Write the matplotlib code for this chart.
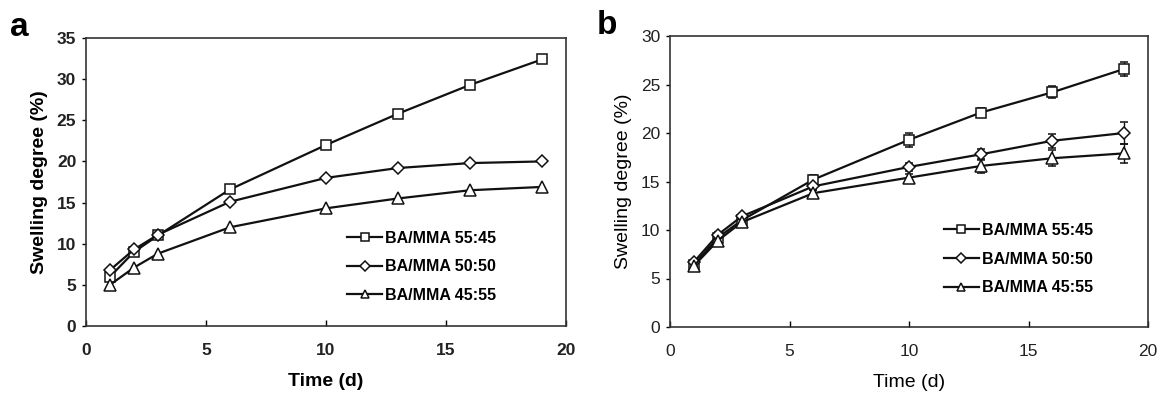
import numpy as np
import matplotlib.pyplot as plt

plt.rcParams['font.family'] = ['Liberation Sans', 'DejaVu Sans']

days = [1, 2, 3, 6, 10, 13, 16, 19]
labels = ["BA/MMA 55:45", "BA/MMA 50:50", "BA/MMA 45:55"]
markers = ["s", "D", "^"]

# panel a
a_5545 = [6.0, 9.0, 11.0, 16.6, 22.0, 25.8, 29.3, 32.4]
a_5050 = [6.8, 9.3, 11.1, 15.1, 18.0, 19.2, 19.8, 20.0]
a_4555 = [5.0, 7.1, 8.8, 12.0, 14.3, 15.5, 16.5, 16.9]

# panel b (mean + error)
b_5545 = [6.4, 9.2, 11.0, 15.2, 19.3, 22.1, 24.2, 26.6]
b_5050 = [6.7, 9.5, 11.4, 14.5, 16.5, 17.8, 19.2, 20.0]
b_4555 = [6.3, 8.9, 10.8, 13.8, 15.4, 16.6, 17.4, 17.9]
b_err_5545 = [0.3, 0.3, 0.3, 0.5, 0.7, 0.5, 0.6, 0.7]
b_err_5050 = [0.2, 0.3, 0.3, 0.4, 0.4, 0.6, 0.7, 1.1]
b_err_4555 = [0.2, 0.3, 0.3, 0.3, 0.4, 0.7, 0.8, 1.0]

fig = plt.figure(figsize=(11.59, 3.93), dpi=100)
W, H = 1159, 393
ax_a = fig.add_axes([86 / W, 1 - 326 / H, 480 / W, 288 / H])
ax_b = fig.add_axes([670 / W, 1 - 327 / H, 478 / W, 291 / H])

msize = {"s": 7, "D": 6, "^": 8}

def style_axes(ax, ymax, bold):
    w = "bold" if bold else "normal"
    ax.set_xlim(0, 20)
    ax.set_ylim(0, ymax)
    ax.set_xticks(range(0, 21, 5))
    ax.set_yticks(range(0, ymax + 1, 5))
    ax.tick_params(axis="x", direction="in", length=4, width=1, labelsize=12.5, pad=12)
    ax.tick_params(axis="y", direction="out", length=3, width=1, labelsize=12.5, pad=4)
    for lab in ax.get_xticklabels() + ax.get_yticklabels():
        lab.set_fontweight(w)
        lab.set_color("#222222")
    for s in ax.spines.values():
        s.set_linewidth(1.2)
        s.set_color("#333333")
    ax.set_xlabel("Time (d)", fontsize=14, fontweight=w, labelpad=11)
    ax.set_ylabel("Swelling degree (%)", fontsize=14, fontweight=w, labelpad=6)

for series, m, lab in zip([a_5545, a_5050, a_4555], markers, labels):
    ax_a.plot(days, series, color="#111111", lw=1.6, marker=m, ms=msize[m],
              mfc="white", mec="#111111", mew=1.1, label=lab)
style_axes(ax_a, 35, True)

for series, err, m, lab in zip([b_5545, b_5050, b_4555],
                               [b_err_5545, b_err_5050, b_err_4555], markers, labels):
    ax_b.errorbar(days, series, yerr=err, color="#111111", lw=1.6, marker=m, ms=msize[m],
                  mfc="white", mec="#111111", mew=1.1, capsize=3, elinewidth=1,
                  label=lab)
style_axes(ax_b, 30, False)

leg_a = ax_a.legend(loc="lower right", bbox_to_anchor=(0.885, 0.03), frameon=False,
                    fontsize=11.5, handlelength=2.2, handletextpad=0.2, labelspacing=0.85,
                    markerscale=0.8)
for t in leg_a.get_texts():
    t.set_fontweight("bold")
handles, labs = ax_b.get_legend_handles_labels()
handles = [h[0] for h in handles]
leg_b = ax_b.legend(handles, labs, loc="lower right", bbox_to_anchor=(0.915, 0.06), frameon=False,
                    fontsize=11.5, handlelength=2.2, handletextpad=0.2, labelspacing=0.85,
                    markerscale=0.8)
for t in leg_b.get_texts():
    t.set_fontweight("bold")

fig.text(10 / W, 1 - 28 / H, "a", fontsize=24, fontweight="bold", va="center")
fig.text(597 / W, 1 - 26 / H, "b", fontsize=24, fontweight="bold", va="center")

fig.savefig("out.png", dpi=100)
